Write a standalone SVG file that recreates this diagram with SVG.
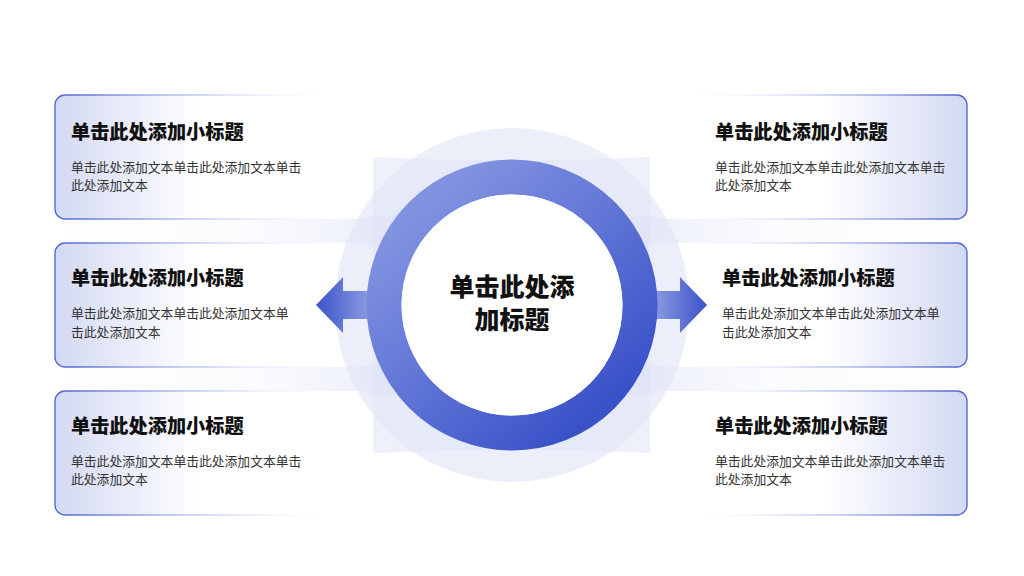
<svg xmlns="http://www.w3.org/2000/svg" width="1024" height="576" viewBox="0 0 1024 576">
<defs>
<linearGradient id="bgBand" x1="0" y1="0" x2="1" y2="0">
<stop offset="0" stop-color="#f1f3fb" stop-opacity="0"/>
<stop offset="0.22" stop-color="#f1f3fb" stop-opacity="0.3"/>
<stop offset="0.36" stop-color="#eceffa"/>
<stop offset="0.64" stop-color="#eceffa"/>
<stop offset="0.78" stop-color="#f1f3fb" stop-opacity="0.3"/>
<stop offset="1" stop-color="#f1f3fb" stop-opacity="0"/>
</linearGradient>
<linearGradient id="fillL" x1="0" y1="0" x2="1" y2="0">
<stop offset="0" stop-color="#d3d9f3"/>
<stop offset="0.45" stop-color="#ffffff"/>
<stop offset="1" stop-color="#ffffff"/>
</linearGradient>
<linearGradient id="fillR" x1="1" y1="0" x2="0" y2="0">
<stop offset="0" stop-color="#d3d9f3"/>
<stop offset="0.45" stop-color="#ffffff"/>
<stop offset="1" stop-color="#ffffff"/>
</linearGradient>
<linearGradient id="strokeL" x1="0" y1="0" x2="1" y2="0">
<stop offset="0" stop-color="#4a60d0"/>
<stop offset="0.5" stop-color="#9aa8e6" stop-opacity="0.5"/>
<stop offset="0.9" stop-color="#ffffff" stop-opacity="0"/>
</linearGradient>
<linearGradient id="strokeR" x1="1" y1="0" x2="0" y2="0">
<stop offset="0" stop-color="#4a60d0"/>
<stop offset="0.5" stop-color="#9aa8e6" stop-opacity="0.5"/>
<stop offset="0.9" stop-color="#ffffff" stop-opacity="0"/>
</linearGradient>
<linearGradient id="ring" x1="0.15" y1="0.1" x2="0.85" y2="0.9">
<stop offset="0" stop-color="#8193e0"/>
<stop offset="0.5" stop-color="#5f74d6"/>
<stop offset="1" stop-color="#3a52c8"/>
</linearGradient>
<linearGradient id="arrL" x1="0" y1="0" x2="1" y2="0">
<stop offset="0" stop-color="#3a52c8"/>
<stop offset="1" stop-color="#909fe2"/>
</linearGradient>
<linearGradient id="arrR" x1="1" y1="0" x2="0" y2="0">
<stop offset="0" stop-color="#3a52c8"/>
<stop offset="1" stop-color="#909fe2"/>
</linearGradient>
</defs>
<style>
.title{font-family:"Noto Sans CJK SC","Noto Sans",sans-serif;font-weight:900;font-size:19.2px;fill:#111111}
.body{font-family:"Noto Sans CJK SC","Noto Sans",sans-serif;font-size:12.8px;fill:#333333}
.center{font-family:"Noto Sans CJK SC","Noto Sans",sans-serif;font-weight:900;font-size:25px;fill:#111111}
.cardL{fill:url(#fillL);stroke:url(#strokeL);stroke-width:1.3}
.cardR{fill:url(#fillR);stroke:url(#strokeR);stroke-width:1.3}
.band{fill:url(#bgBand)}
</style>
<rect width="1024" height="576" fill="#ffffff"/>
<g id="background">
<rect x="40" y="215" width="944" height="32" class="band"/>
<rect x="40" y="363" width="944" height="32" class="band"/>
</g>
<g id="card-left-1">
<rect x="55" y="95" width="318" height="124" rx="10" class="cardL"/>
<text class="title" x="71" y="139">单击此处添加小标题</text>
<text class="body" x="71" y="171.5">单击此处添加文本单击此处添加文本单击</text>
<text class="body" x="71" y="190">此处添加文本</text>
</g>
<g id="card-left-2">
<rect x="55" y="243" width="318" height="124" rx="10" class="cardL"/>
<text class="title" x="71" y="285">单击此处添加小标题</text>
<text class="body" x="71" y="318">单击此处添加文本单击此处添加文本单</text>
<text class="body" x="71" y="336.5">击此处添加文本</text>
</g>
<g id="card-left-3">
<rect x="55" y="391" width="318" height="124" rx="10" class="cardL"/>
<text class="title" x="71" y="433">单击此处添加小标题</text>
<text class="body" x="71" y="465.5">单击此处添加文本单击此处添加文本单击</text>
<text class="body" x="71" y="484">此处添加文本</text>
</g>
<g id="card-right-1">
<rect x="650" y="95" width="317" height="124" rx="10" class="cardR"/>
<text class="title" x="715" y="139">单击此处添加小标题</text>
<text class="body" x="715" y="171.5">单击此处添加文本单击此处添加文本单击</text>
<text class="body" x="715" y="190">此处添加文本</text>
</g>
<g id="card-right-2">
<rect x="650" y="243" width="317" height="124" rx="10" class="cardR"/>
<text class="title" x="722" y="285">单击此处添加小标题</text>
<text class="body" x="722" y="318">单击此处添加文本单击此处添加文本单</text>
<text class="body" x="722" y="336.5">击此处添加文本</text>
</g>
<g id="card-right-3">
<rect x="650" y="391" width="317" height="124" rx="10" class="cardR"/>
<text class="title" x="715" y="433">单击此处添加小标题</text>
<text class="body" x="715" y="465.5">单击此处添加文本单击此处添加文本单击</text>
<text class="body" x="715" y="484">此处添加文本</text>
</g>
<g id="center-backdrop">
<path d="M373,157 Q512,164 650,157 L650,453 Q512,446 373,453 Z" fill="#dfe4f6" fill-opacity="0.5"/>
<circle cx="512" cy="305" r="177" fill="#dde2f6" fill-opacity="0.55"/>
</g>
<g id="connectors">
<path d="M316,305 L343,277 L343,291 L372,291 L372,319 L343,319 L343,333 Z" fill="url(#arrL)"/>
<path d="M707,305 L680,277 L680,291 L651,291 L651,319 L680,319 L680,333 Z" fill="url(#arrR)"/>
</g>
<g id="center-node">
<circle cx="512" cy="305" r="128" fill="none" stroke="url(#ring)" stroke-width="35"/>
<circle cx="512" cy="305" r="110.5" fill="#ffffff"/>
<text class="center" x="512" y="296" text-anchor="middle">单击此处添</text>
<text class="center" x="512" y="329" text-anchor="middle">加标题</text>
</g>
</svg>
